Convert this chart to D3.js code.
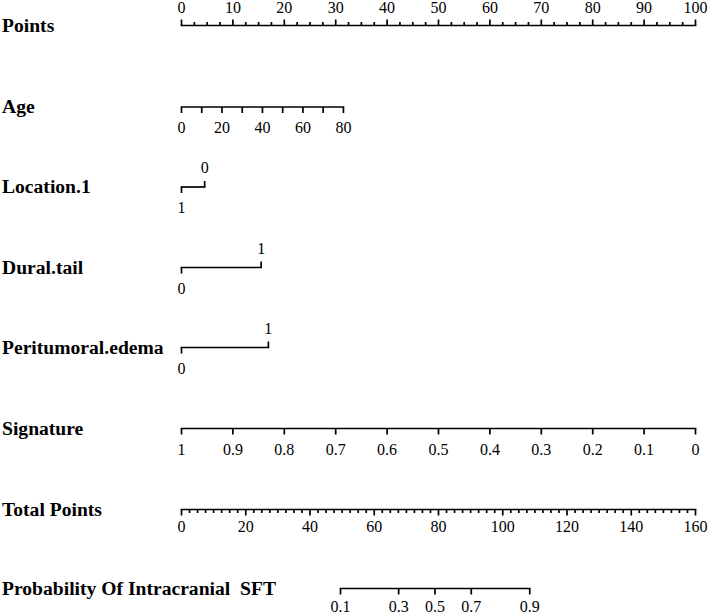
<!DOCTYPE html>
<html>
<head>
<meta charset="utf-8">
<script src="https://cdn.jsdelivr.net/npm/d3@7"></script>
<style>
  html, body { margin: 0; padding: 0; background: #fff; }
  svg { display: block; }
</style>
</head>
<body>
<svg id="chart" width="709" height="615"></svg>
<script>
// ---- Data ----
const rowLabels = ["Points", "Age", "Location.1", "Dural.tail", "Peritumoral.edema", "Signature", "Total Points", "Probability Of Intracranial  SFT"];

const pointsTickLabels = [0, 10, 20, 30, 40, 50, 60, 70, 80, 90, 100];
const pointsMinorStep = 2.5;

const ageValues = [0, 10, 20, 30, 40, 50, 60, 70, 80];
const ageTickLabels = [0, 20, 40, 60, 80];
const ageMaxPoints = 31.5;          // points at age 80

const locationLevels = ["1", "0"];
const locationPoints = [0, 4.5];

const duralLevels = ["0", "1"];
const duralPoints = [0, 15.5];

const edemaLevels = ["0", "1"];
const edemaPoints = [0, 16.9];

const signatureValues = [1, 0.9, 0.8, 0.7, 0.6, 0.5, 0.4, 0.3, 0.2, 0.1, 0];
const signatureLabels = ["1", "0.9", "0.8", "0.7", "0.6", "0.5", "0.4", "0.3", "0.2", "0.1", "0"];

const totalTickLabels = [0, 20, 40, 60, 80, 100, 120, 140, 160];
const totalMinorStep = 2.5;

const probLabels = ["0.1", "0.3", "0.5", "0.7", "0.9"];
const probTotalPoints = [49.5, 67.6, 78.9, 90.2, 108.4];

// ---- Layout ----
const FONT = "'Liberation Serif', 'Times New Roman', Times, 'DejaVu Serif', serif";
const svg = d3.select("#chart");
const x0 = 181.5, x1 = 695.5;
const xPts = d3.scaleLinear().domain([0, 100]).range([x0, x1]);
const xTot = d3.scaleLinear().domain([0, 160]).range([x0, x1]);
const rowY = [25.5, 107, 187, 267.5, 347.5, 428.5, 509.5, 588.5];
const sw = 1.7;
const tickFont = 16;

// row labels
svg.selectAll("text.rowlab").data(rowLabels).enter().append("text")
  .attr("class", "rowlab")
  .attr("x", 2)
  .attr("y", (d, i) => rowY[i] + 6)
  .attr("font-family", FONT)
  .attr("font-size", 19.6)
  .attr("font-weight", "bold")
  .attr("fill", "#000")
  .style("white-space", "pre")
  .text(d => d);

function hline(y, xa, xb) {
  svg.append("line").attr("x1", xa).attr("x2", xb).attr("y1", y).attr("y2", y)
    .attr("stroke", "#000").attr("stroke-width", sw).attr("stroke-linecap", "square");
}
function tick(x, y, len) { // len negative = up
  svg.append("line").attr("x1", x).attr("x2", x).attr("y1", y).attr("y2", y + len)
    .attr("stroke", "#000").attr("stroke-width", sw);
}
function label(x, y, t) {
  svg.append("text").attr("x", x).attr("y", y).attr("text-anchor", "middle")
    .attr("font-family", FONT).attr("fill", "#000")
    .attr("font-size", tickFont).text(t);
}

// ---- Points axis (ticks up, labels above) ----
{
  const y = rowY[0];
  hline(y, xPts(0), xPts(100));
  d3.range(0, 100 + 1e-9, pointsMinorStep).forEach(v => {
    const major = pointsTickLabels.includes(v);
    tick(xPts(v), y, major ? -6 : -3.5);
  });
  pointsTickLabels.forEach(v => label(xPts(v), y - 13, v));
}

// ---- Age ----
{
  const y = rowY[1];
  const agePts = d3.scaleLinear().domain([0, 80]).range([0, ageMaxPoints]);
  hline(y, xPts(agePts(0)), xPts(agePts(80)));
  ageValues.forEach(v => tick(xPts(agePts(v)), y, 6));
  ageTickLabels.forEach(v => label(xPts(agePts(v)), y + 26, v));
}

// ---- Categorical rows ----
function catRow(y, levels, pts, aboveLevelIndex) {
  const xs = pts.map(p => xPts(p));
  hline(y, d3.min(xs), d3.max(xs));
  levels.forEach((lv, i) => {
    const up = i === aboveLevelIndex;
    tick(xs[i], y, up ? -6 : 6);
    label(xs[i], up ? y - 14 : y + 26, lv);
  });
}
catRow(rowY[2], locationLevels, locationPoints, 1);
catRow(rowY[3], duralLevels, duralPoints, 1);
catRow(rowY[4], edemaLevels, edemaPoints, 1);

// ---- Signature ----
{
  const y = rowY[5];
  const sigPts = d3.scaleLinear().domain([1, 0]).range([0, 100]);
  hline(y, xPts(sigPts(1)), xPts(sigPts(0)));
  signatureValues.forEach((v, i) => {
    tick(xPts(sigPts(v)), y, 6);
    label(xPts(sigPts(v)), y + 26, signatureLabels[i]);
  });
}

// ---- Total Points ----
{
  const y = rowY[6];
  hline(y, xTot(0), xTot(160));
  d3.range(0, 160 + 1e-9, totalMinorStep).forEach(v => {
    const major = totalTickLabels.includes(v);
    tick(xTot(v), y, major ? 6 : 3.5);
  });
  totalTickLabels.forEach(v => label(xTot(v), y + 22, v));
}

// ---- Probability ----
{
  const y = rowY[7];
  const xs = probTotalPoints.map(p => xTot(p));
  hline(y, d3.min(xs), d3.max(xs));
  probLabels.forEach((t, i) => {
    tick(xs[i], y, 6);
    label(xs[i], y + 23, t);
  });
}
</script>
</body>
</html>
